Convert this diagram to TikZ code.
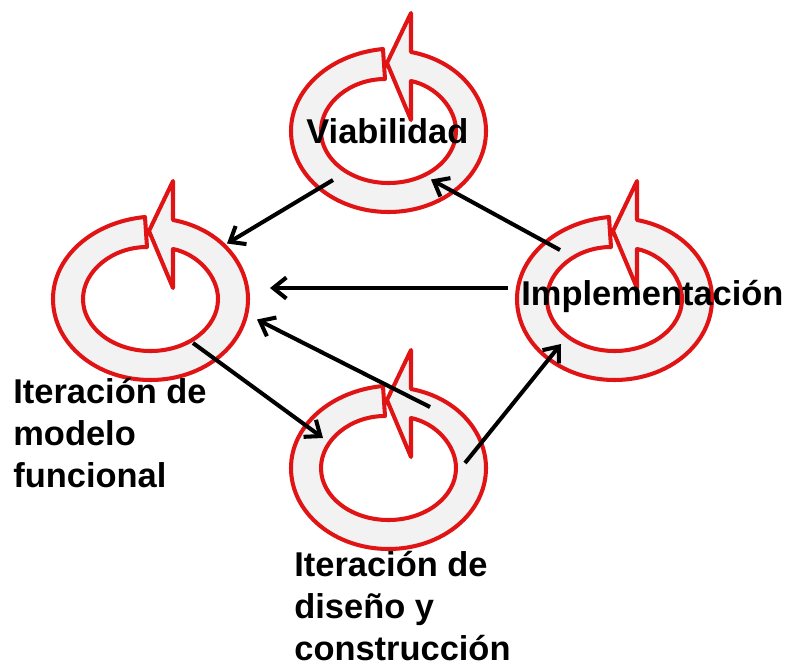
\documentclass[tikz,border=0pt]{standalone}
\usepackage{fontspec}
\setmainfont{Liberation Sans}
\usetikzlibrary{arrows.meta,positioning}
\definecolor{myred}{RGB}{224,20,20}
\definecolor{mygray}{RGB}{242,242,242}
\tikzset{
  ring/.pic = {
    \draw[draw=myred, line width=2.3pt, fill=mygray, line join=round]
      (22.5,-79) .. controls (70,-70) and (97.5,-35) .. (97.5,0)
      .. controls (97.5,45) and (54,81) .. (0,81)
      .. controls (-54,81) and (-97.5,45) .. (-97.5,0)
      .. controls (-97.5,-42) and (-58,-77) .. (-5.5,-82)
      -- (-3.5,-52)
      .. controls (-38,-52) and (-67.5,-28) .. (-67.5,0)
      .. controls (-67.5,29) and (-37,52) .. (0,52)
      .. controls (37,52) and (67.5,29) .. (67.5,0)
      .. controls (67.5,-23) and (47,-45) .. (22.5,-50)
      -- (22.5,-11) -- (-1.5,-68) -- (22.5,-118) -- cycle;
  },
  label/.style = {font=\fontsize{19.6}{23.9}\selectfont\bfseries, align=left, inner sep=0pt, text=black},
  post/.style = {-{Straight Barb[length=7.5pt,width=12pt]}, line width=2.3pt, black}
}
\begin{document}
\begin{tikzpicture}[x=0.02cm,y=-0.02cm]
  \path[use as bounding box] (0,0) rectangle (785,663);
  \pic (via) at (388.5,131) {ring};
  \pic (mod) at (150.5,299) {ring};
  \pic (imp) at (614.5,299) {ring};
  \pic (dis) at (388.5,468) {ring};

  \node[label, anchor=base west] (viaText) at (306,143) {Viabilidad};
  \node[label, anchor=base west] (impText) at (521,305) {Implementación};
  \node[label, anchor=north west] (modText) at (13,378) {Iteración de\\modelo\\funcional};
  \node[label, anchor=north west] (disText) at (294,550.5) {Iteración de\\diseño y\\construcción};

  \coordinate (a1) at (333,180);  \coordinate (b1) at (227,243.5);
  \coordinate (a2) at (560,250);  \coordinate (b2) at (431,179.5);
  \coordinate (a3) at (508,288);  \coordinate (b3) at (270,288);
  \coordinate (a4) at (430,407);  \coordinate (b4) at (257,319.5);
  \coordinate (a5) at (193,343);  \coordinate (b5) at (323,438);
  \coordinate (a6) at (465,463);  \coordinate (b6) at (561,344);
  \foreach \i in {1,...,6}
    \draw[post] (a\i) -- (b\i);
\end{tikzpicture}
\end{document}
